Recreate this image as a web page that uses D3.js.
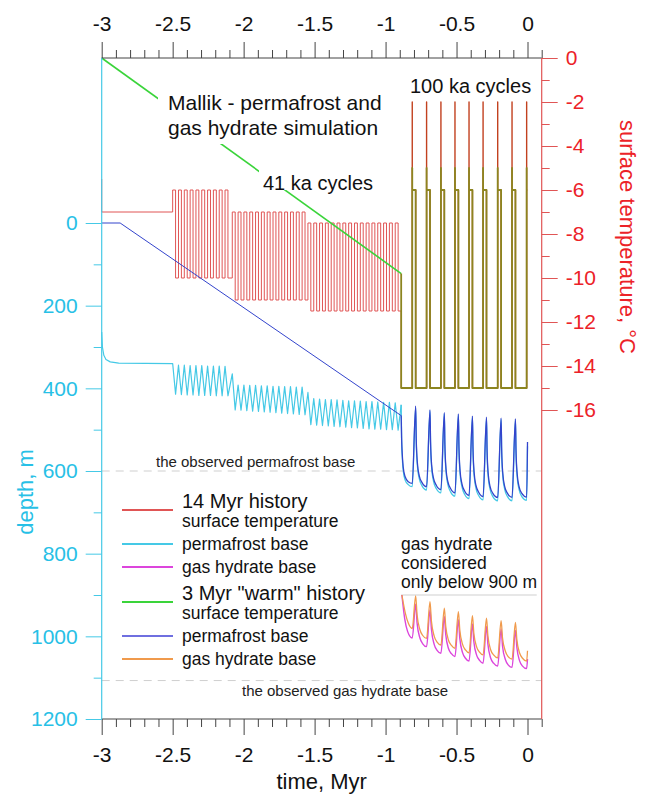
<!DOCTYPE html>
<html>
<head>
<meta charset="utf-8">
<script src="https://cdn.jsdelivr.net/npm/d3@7"></script>
<style>
  body { margin: 0; background: #fff; }
  svg { display: block; font-family: "Liberation Sans", Arial, sans-serif; }
</style>
</head>
<body>
<svg id="chart" width="649" height="795"></svg>
<script>
// ---- tick values ----
var timeMajor = [-3, -2.5, -2, -1.5, -1, -0.5, 0];
var timeMinor = [-2.9, -2.8, -2.7, -2.6, -2.4, -2.3, -2.2, -2.1, -1.9, -1.8, -1.7, -1.6,
  -1.4, -1.3, -1.2, -1.1, -0.9, -0.8, -0.7, -0.6, -0.4, -0.3, -0.2, -0.1, 0.1];
var depthMajor = [0, 200, 400, 600, 800, 1000, 1200];
var depthMinor = [100, 300, 500, 700, 900, 1100];
var tempMajor = [0, -2, -4, -6, -8, -10, -12, -14, -16];
var tempMinor = [-1, -3, -5, -7, -9, -11, -13, -15];

// ---- 14 Myr history: surface temperature (step after each time), [Myr, degC] ----
var temp14 = [
  [-3, -5.5], [-3, -7],
  [-2.500, -6], [-2.4795, -10], [-2.459, -6], [-2.4385, -10], [-2.418, -6], [-2.3975, -10],
  [-2.377, -6], [-2.3565, -10], [-2.336, -6], [-2.3155, -10], [-2.295, -6], [-2.2745, -10],
  [-2.254, -6], [-2.2335, -10], [-2.213, -6], [-2.1925, -10], [-2.172, -6], [-2.1515, -10],
  [-2.131, -6], [-2.1105, -10],
  [-2.080, -7], [-2.0595, -11], [-2.039, -7], [-2.0185, -11], [-1.998, -7], [-1.9775, -11],
  [-1.957, -7], [-1.9365, -11], [-1.916, -7], [-1.8955, -11], [-1.875, -7], [-1.8545, -11],
  [-1.834, -7], [-1.8135, -11], [-1.793, -7], [-1.7725, -11], [-1.752, -7], [-1.7315, -11],
  [-1.711, -7], [-1.6905, -11], [-1.670, -7], [-1.6495, -11], [-1.629, -7], [-1.6085, -11],
  [-1.588, -7], [-1.5675, -11],
  [-1.547, -7.5], [-1.5265, -11.5], [-1.506, -7.5], [-1.4855, -11.5], [-1.465, -7.5], [-1.4445, -11.5],
  [-1.424, -7.5], [-1.4035, -11.5], [-1.383, -7.5], [-1.3625, -11.5], [-1.342, -7.5], [-1.3215, -11.5],
  [-1.301, -7.5], [-1.2805, -11.5], [-1.260, -7.5], [-1.2395, -11.5], [-1.219, -7.5], [-1.1985, -11.5],
  [-1.178, -7.5], [-1.1575, -11.5], [-1.137, -7.5], [-1.1165, -11.5], [-1.096, -7.5], [-1.0755, -11.5],
  [-1.055, -7.5], [-1.0345, -11.5], [-1.014, -7.5], [-0.9935, -11.5], [-0.973, -7.5], [-0.9525, -11.5],
  [-0.932, -7.5], [-0.9115, -11.5],
  [-0.89, -15],
  [-0.812, -2], [-0.812, -6], [-0.788, -15],
  [-0.711, -2], [-0.711, -6], [-0.687, -15],
  [-0.610, -2], [-0.610, -6], [-0.586, -15],
  [-0.511, -2], [-0.511, -6], [-0.487, -15],
  [-0.412, -2], [-0.412, -6], [-0.388, -15],
  [-0.313, -2], [-0.313, -6], [-0.289, -15],
  [-0.210, -2], [-0.210, -6], [-0.186, -15],
  [-0.109, -2], [-0.109, -6], [-0.085, -15],
  [-0.006, -2], [-0.006, -6], [0, -6]
];

// ---- 3 Myr "warm" history: surface temperature (vertices), [Myr, degC] ----
var temp3 = [
  [-3, 0], [-0.89, -9.8], [-0.89, -15],
  [-0.812, -15], [-0.812, -5], [-0.812, -6], [-0.788, -6], [-0.788, -15],
  [-0.711, -15], [-0.711, -5], [-0.711, -6], [-0.687, -6], [-0.687, -15],
  [-0.610, -15], [-0.610, -5], [-0.610, -6], [-0.586, -6], [-0.586, -15],
  [-0.511, -15], [-0.511, -5], [-0.511, -6], [-0.487, -6], [-0.487, -15],
  [-0.412, -15], [-0.412, -5], [-0.412, -6], [-0.388, -6], [-0.388, -15],
  [-0.313, -15], [-0.313, -5], [-0.313, -6], [-0.289, -6], [-0.289, -15],
  [-0.210, -15], [-0.210, -5], [-0.210, -6], [-0.186, -6], [-0.186, -15],
  [-0.109, -15], [-0.109, -5], [-0.109, -6], [-0.085, -6], [-0.085, -15],
  [-0.006, -15], [-0.006, -5], [-0.006, -6], [0, -6]
];

// ---- 14 Myr history: permafrost base, [Myr, m] ----
var pf14 = [
  [-3, 264], [-2.995, 300], [-2.985, 320], [-2.97, 330], [-2.94, 336], [-2.88, 339], [-2.5, 340],
  [-2.4795, 414], [-2.459, 344], [-2.4385, 415], [-2.418, 344], [-2.3975, 416], [-2.377, 345],
  [-2.3565, 416], [-2.336, 345], [-2.3155, 417], [-2.295, 345], [-2.2745, 417], [-2.254, 346],
  [-2.2335, 417], [-2.213, 346], [-2.1925, 418], [-2.172, 346], [-2.1515, 418], [-2.131, 347],
  [-2.1105, 418], [-2.080, 365],
  [-2.0595, 452], [-2.039, 392], [-2.0185, 453], [-1.998, 392], [-1.9775, 454], [-1.957, 393],
  [-1.9365, 455], [-1.916, 393], [-1.8955, 456], [-1.875, 394], [-1.8545, 457], [-1.834, 394],
  [-1.8135, 458], [-1.793, 395], [-1.7725, 459], [-1.752, 395], [-1.7315, 460], [-1.711, 396],
  [-1.6905, 461], [-1.670, 396], [-1.6495, 462], [-1.629, 397], [-1.6085, 463], [-1.588, 397],
  [-1.5675, 464], [-1.547, 410],
  [-1.5265, 488], [-1.506, 425], [-1.4855, 489], [-1.465, 426], [-1.4445, 490], [-1.424, 427],
  [-1.4035, 491], [-1.383, 427], [-1.3625, 492], [-1.342, 428], [-1.3215, 493], [-1.301, 429],
  [-1.2805, 494], [-1.260, 430], [-1.2395, 495], [-1.219, 430], [-1.1985, 496], [-1.178, 431],
  [-1.1575, 497], [-1.137, 432], [-1.1165, 498], [-1.096, 432], [-1.0755, 499], [-1.055, 433],
  [-1.0345, 499], [-1.014, 434], [-0.9935, 500], [-0.973, 434], [-0.9525, 500], [-0.932, 435],
  [-0.9115, 501], [-0.89, 440],
  [-0.887, 525], [-0.883, 562], [-0.876, 598], [-0.862, 622], [-0.84, 633], [-0.812, 638],
  [-0.788, 446], [-0.784, 527], [-0.776, 587], [-0.763, 618], [-0.743, 636], [-0.711, 646],
  [-0.687, 455], [-0.683, 535], [-0.675, 594], [-0.662, 625], [-0.642, 643], [-0.610, 653],
  [-0.586, 462], [-0.582, 543], [-0.574, 602], [-0.561, 633], [-0.541, 651], [-0.511, 661],
  [-0.487, 465], [-0.483, 547], [-0.475, 607], [-0.462, 638], [-0.442, 657], [-0.412, 667],
  [-0.388, 470], [-0.384, 551], [-0.376, 611], [-0.363, 642], [-0.343, 660], [-0.313, 670],
  [-0.289, 473], [-0.285, 554], [-0.277, 613], [-0.264, 644], [-0.244, 662], [-0.210, 672],
  [-0.186, 475], [-0.182, 555], [-0.174, 613], [-0.161, 644], [-0.141, 662], [-0.109, 672],
  [-0.085, 477], [-0.081, 556], [-0.073, 613], [-0.060, 644], [-0.040, 662], [-0.006, 671],
  [0, 540]
];

// ---- 3 Myr history: permafrost base, [Myr, m] ----
var pf3 = [
  [-3, 0], [-2.87, 0], [-0.89, 466],
  [-0.887, 520], [-0.883, 556], [-0.876, 590], [-0.862, 614], [-0.84, 626], [-0.812, 630],
  [-0.788, 443], [-0.784, 521], [-0.776, 580], [-0.763, 611], [-0.743, 628], [-0.711, 638],
  [-0.687, 452], [-0.683, 529], [-0.675, 587], [-0.662, 618], [-0.642, 635], [-0.610, 645],
  [-0.586, 459], [-0.582, 537], [-0.574, 595], [-0.561, 626], [-0.541, 643], [-0.511, 653],
  [-0.487, 462], [-0.483, 541], [-0.475, 600], [-0.462, 631], [-0.442, 649], [-0.412, 659],
  [-0.388, 467], [-0.384, 545], [-0.376, 604], [-0.363, 635], [-0.343, 652], [-0.313, 662],
  [-0.289, 470], [-0.285, 548], [-0.277, 606], [-0.264, 637], [-0.244, 654], [-0.210, 664],
  [-0.186, 472], [-0.182, 549], [-0.174, 606], [-0.161, 637], [-0.141, 654], [-0.109, 664],
  [-0.085, 474], [-0.081, 550], [-0.073, 606], [-0.060, 637], [-0.040, 654], [-0.006, 663],
  [0, 530]
];

// ---- gas hydrate base (only below 900 m), [Myr, m] ----
var gh14 = [
  [-0.885, 900], [-0.865, 958], [-0.845, 988], [-0.812, 1004],
  [-0.788, 922], [-0.778, 968], [-0.758, 1004], [-0.738, 1018], [-0.711, 1025],
  [-0.687, 936], [-0.677, 983], [-0.657, 1020], [-0.637, 1034], [-0.610, 1041],
  [-0.586, 952], [-0.576, 996], [-0.556, 1030], [-0.536, 1042], [-0.511, 1049],
  [-0.487, 960], [-0.477, 1005], [-0.457, 1040], [-0.437, 1053], [-0.412, 1060],
  [-0.388, 970], [-0.378, 1013], [-0.358, 1046], [-0.338, 1058], [-0.313, 1065],
  [-0.289, 976], [-0.279, 1019], [-0.259, 1053], [-0.239, 1065], [-0.210, 1072],
  [-0.186, 982], [-0.176, 1024], [-0.156, 1056], [-0.136, 1069], [-0.109, 1075],
  [-0.085, 986], [-0.075, 1027], [-0.055, 1060], [-0.035, 1072], [-0.006, 1078],
  [0, 1055]
];
var gh3 = [
  [-0.885, 900], [-0.86, 945], [-0.84, 968], [-0.812, 981],
  [-0.788, 902], [-0.778, 948], [-0.758, 984], [-0.738, 998], [-0.711, 1005],
  [-0.687, 916], [-0.677, 963], [-0.657, 1000], [-0.637, 1014], [-0.610, 1021],
  [-0.586, 932], [-0.576, 976], [-0.556, 1010], [-0.536, 1022], [-0.511, 1029],
  [-0.487, 940], [-0.477, 985], [-0.457, 1020], [-0.437, 1033], [-0.412, 1040],
  [-0.388, 950], [-0.378, 993], [-0.358, 1026], [-0.338, 1038], [-0.313, 1045],
  [-0.289, 956], [-0.279, 999], [-0.259, 1033], [-0.239, 1045], [-0.210, 1052],
  [-0.186, 962], [-0.176, 1004], [-0.156, 1036], [-0.136, 1049], [-0.109, 1055],
  [-0.085, 966], [-0.075, 1008], [-0.055, 1041], [-0.035, 1053], [-0.006, 1060],
  [0, 1035]
];

// observed depths, m
var observedPermafrost = 600;
var observedHydrate = 1107;
var hydrateCutoff = 900;

var legend14 = ['14 Myr history', 'surface temperature', 'permafrost base', 'gas hydrate base'];
var legend3 = ['3 Myr "warm" history', 'surface temperature', 'permafrost base', 'gas hydrate base'];

// ---- colours ----
var C = {
  red: '#e05555', redLate: '#c2411f', green: '#3ad43a', olive: '#8c8520',
  cyan: '#45c9e6', blue: '#3344cc', magenta: '#dc45dc', orange: '#f09a4c',
  cyanText: '#27c0e6', redText: '#ec2228', grid: '#cfcfcf', axis: '#444'
};

var svg = d3.select('#chart');
var plotTop = 58, plotBottom = 719;

var x = d3.scaleLinear().domain([-3, 0.1]).range([101.7, 541.7]);
var yDepth = d3.scaleLinear().domain([0, 1200]).range([223, 719]);
var yTemp = d3.scaleLinear().domain([0, -16]).range([58, 410]);

var tempLine = d3.line().x(function(d) { return x(d[0]); }).y(function(d) { return yTemp(d[1]); });
var depthLine = d3.line().x(function(d) { return x(d[0]); }).y(function(d) { return yDepth(d[1]); });
var depthSmooth = d3.line().x(function(d) { return x(d[0]); }).y(function(d) { return yDepth(d[1]); })
  .curve(d3.curveMonotoneX);

function before(arr, t) { return arr.filter(function(d) { return d[0] <= t; }); }
function after(arr, t) { return arr.filter(function(d) { return d[0] >= t; }); }

function addPath(data, gen, color, width, extra) {
  var p = svg.append('path').datum(data).attr('d', gen)
    .attr('fill', 'none').attr('stroke', color).attr('stroke-width', width)
    .attr('stroke-linejoin', 'round');
  if (extra) extra(p);
  return p;
}

// reference lines
[observedPermafrost, observedHydrate].forEach(function(d) {
  svg.append('line').attr('x1', x(-3)).attr('x2', x(0.1))
    .attr('y1', yDepth(d)).attr('y2', yDepth(d))
    .attr('stroke', C.grid).attr('stroke-width', 1).attr('stroke-dasharray', '8,6');
});
svg.append('line').attr('x1', x(-0.89)).attr('x2', x(0.065))
  .attr('y1', yDepth(hydrateCutoff)).attr('y2', yDepth(hydrateCutoff))
  .attr('stroke', C.grid).attr('stroke-width', 1);

// temperature histories
var stepTemp = d3.line().x(function(d) { return x(d[0]); }).y(function(d) { return yTemp(d[1]); })
  .curve(d3.curveStepAfter);
addPath(before(temp14, -0.89), stepTemp, C.red, 1);
addPath(before(temp3, -0.89).slice(0, 2), tempLine, C.green, 1.6);

// text boxes hide the green line
svg.append('rect').attr('x', 158).attr('y', 88).attr('width', 236).attr('height', 56).attr('fill', '#fff');
svg.append('rect').attr('x', 259).attr('y', 170).attr('width', 116).attr('height', 20).attr('fill', '#fff');

var ann = svg.append('g').attr('fill', '#111');
ann.append('text').attr('x', 168).attr('y', 110).style('font-size', '21px').text('Mallik - permafrost and');
ann.append('text').attr('x', 168).attr('y', 135).style('font-size', '21px').text('gas hydrate simulation');
ann.append('text').attr('x', 263).attr('y', 190).style('font-size', '20px').text('41 ka cycles');
ann.append('text').attr('x', 410).attr('y', 93).style('font-size', '20px').text('100 ka cycles');

addPath(after(temp14, -0.89), stepTemp, C.redLate, 1.4);
addPath(after(temp3, -0.89), tempLine, C.olive, 1.8);

// depth histories
addPath(before(pf14, -0.89), depthLine, C.cyan, 1.2);
addPath(after(pf14, -0.89), depthSmooth, C.cyan, 1.3);
addPath(before(pf3, -0.89), depthLine, C.blue, 1);
addPath(after(pf3, -0.89), depthSmooth, C.blue, 1.3);
addPath(gh14, depthSmooth, C.magenta, 1.4);
addPath(gh3, depthSmooth, C.orange, 1.3);

// annotations in the plot
var small = svg.append('g').attr('fill', '#222').style('font-size', '15px');
small.append('text').attr('x', 156).attr('y', 467).text('the observed permafrost base');
small.append('text').attr('x', 242).attr('y', 696).text('the observed gas hydrate base');

var gh = svg.append('g').attr('fill', '#111').style('font-size', '17.5px');
['gas hydrate', 'considered', 'only below 900 m'].forEach(function(s, i) {
  gh.append('text').attr('x', 401).attr('y', 550 + i * 19).text(s);
});

// legend
function legendGroup(labels, colors, y0) {
  var g = svg.append('g').attr('fill', '#111');
  g.append('text').attr('x', 182).attr('y', y0 + 7).style('font-size', '20px').text(labels[0]);
  g.append('text').attr('x', 182).attr('y', y0 + 26).style('font-size', '17.5px').text(labels[1]);
  g.append('text').attr('x', 182).attr('y', y0 + 49).style('font-size', '17.5px').text(labels[2]);
  g.append('text').attr('x', 182).attr('y', y0 + 72).style('font-size', '17.5px').text(labels[3]);
  var ys = [y0 + 9, y0 + 43, y0 + 66];
  ys.forEach(function(yy, i) {
    g.append('line').attr('x1', 122).attr('x2', 173).attr('y1', yy).attr('y2', yy)
      .attr('stroke', colors[i]).attr('stroke-width', 2);
  });
}
legendGroup(legend14, [C.red, C.cyan, C.magenta], 501);
legendGroup(legend3, [C.green, '#6f6fe0', C.orange], 593);

// frame
svg.append('line').attr('x1', x(-3)).attr('x2', x(0.1)).attr('y1', plotTop).attr('y2', plotTop).attr('stroke', C.axis);
svg.append('line').attr('x1', x(-3)).attr('x2', x(0.1)).attr('y1', plotBottom).attr('y2', plotBottom).attr('stroke', C.axis);
svg.append('line').attr('x1', x(-3)).attr('x2', x(-3)).attr('y1', plotTop).attr('y2', plotBottom).attr('stroke', C.cyan).attr('stroke-width', 1.2);
svg.append('line').attr('x1', x(0.1)).attr('x2', x(0.1)).attr('y1', plotTop).attr('y2', plotBottom).attr('stroke', C.red).attr('stroke-width', 1.2);

function styleAxis(g, lineColor, textColor) {
  g.select('.domain').remove();
  g.attr('font-family', null).attr('font-size', null);
  g.selectAll('.tick line').attr('stroke', lineColor);
  g.selectAll('.tick text').attr('fill', textColor).style('font-size', '21px');
}
var fmt = function(d) { return String(d); };

svg.append('g').attr('transform', 'translate(0,' + plotTop + ')')
  .call(d3.axisTop(x).tickValues(timeMajor).tickSize(16).tickPadding(11).tickFormat(fmt))
  .call(styleAxis, C.axis, '#111');
svg.append('g').attr('transform', 'translate(0,' + plotTop + ')')
  .call(d3.axisTop(x).tickValues(timeMinor).tickSize(8).tickFormat(''))
  .call(styleAxis, C.axis, '#111');
svg.append('g').attr('transform', 'translate(0,' + plotBottom + ')')
  .call(d3.axisBottom(x).tickValues(timeMajor).tickSize(16).tickPadding(12).tickFormat(fmt))
  .call(styleAxis, C.axis, '#111');
svg.append('g').attr('transform', 'translate(0,' + plotBottom + ')')
  .call(d3.axisBottom(x).tickValues(timeMinor).tickSize(8).tickFormat(''))
  .call(styleAxis, C.axis, '#111');

svg.append('g').attr('transform', 'translate(' + x(-3) + ',0)')
  .call(d3.axisLeft(yDepth).tickValues(depthMajor).tickSize(16).tickPadding(8).tickFormat(fmt))
  .call(styleAxis, C.cyan, C.cyanText);
svg.append('g').attr('transform', 'translate(' + x(-3) + ',0)')
  .call(d3.axisLeft(yDepth).tickValues(depthMinor).tickSize(8).tickFormat(''))
  .call(styleAxis, C.cyan, C.cyanText);

svg.append('g').attr('transform', 'translate(' + x(0.1) + ',0)')
  .call(d3.axisRight(yTemp).tickValues(tempMajor).tickSize(16).tickPadding(8).tickFormat(fmt))
  .call(styleAxis, C.red, C.redText);
svg.append('g').attr('transform', 'translate(' + x(0.1) + ',0)')
  .call(d3.axisRight(yTemp).tickValues(tempMinor).tickSize(8).tickFormat(''))
  .call(styleAxis, C.red, C.redText);

// axis titles
svg.append('text').attr('x', (x(-3) + x(0.1)) / 2).attr('y', 789)
  .attr('text-anchor', 'middle').attr('fill', '#111').style('font-size', '22px').text('time, Myr');
svg.append('text').attr('transform', 'translate(25,492) rotate(-90)')
  .attr('text-anchor', 'middle').attr('dominant-baseline', 'central')
  .attr('fill', C.cyanText).style('font-size', '22px').text('depth, m');
svg.append('text').attr('transform', 'translate(627,237) rotate(90)')
  .attr('text-anchor', 'middle').attr('dominant-baseline', 'central')
  .attr('fill', C.redText).style('font-size', '22px').text('surface temperature, \u00B0C');
</script>
</body>
</html>
